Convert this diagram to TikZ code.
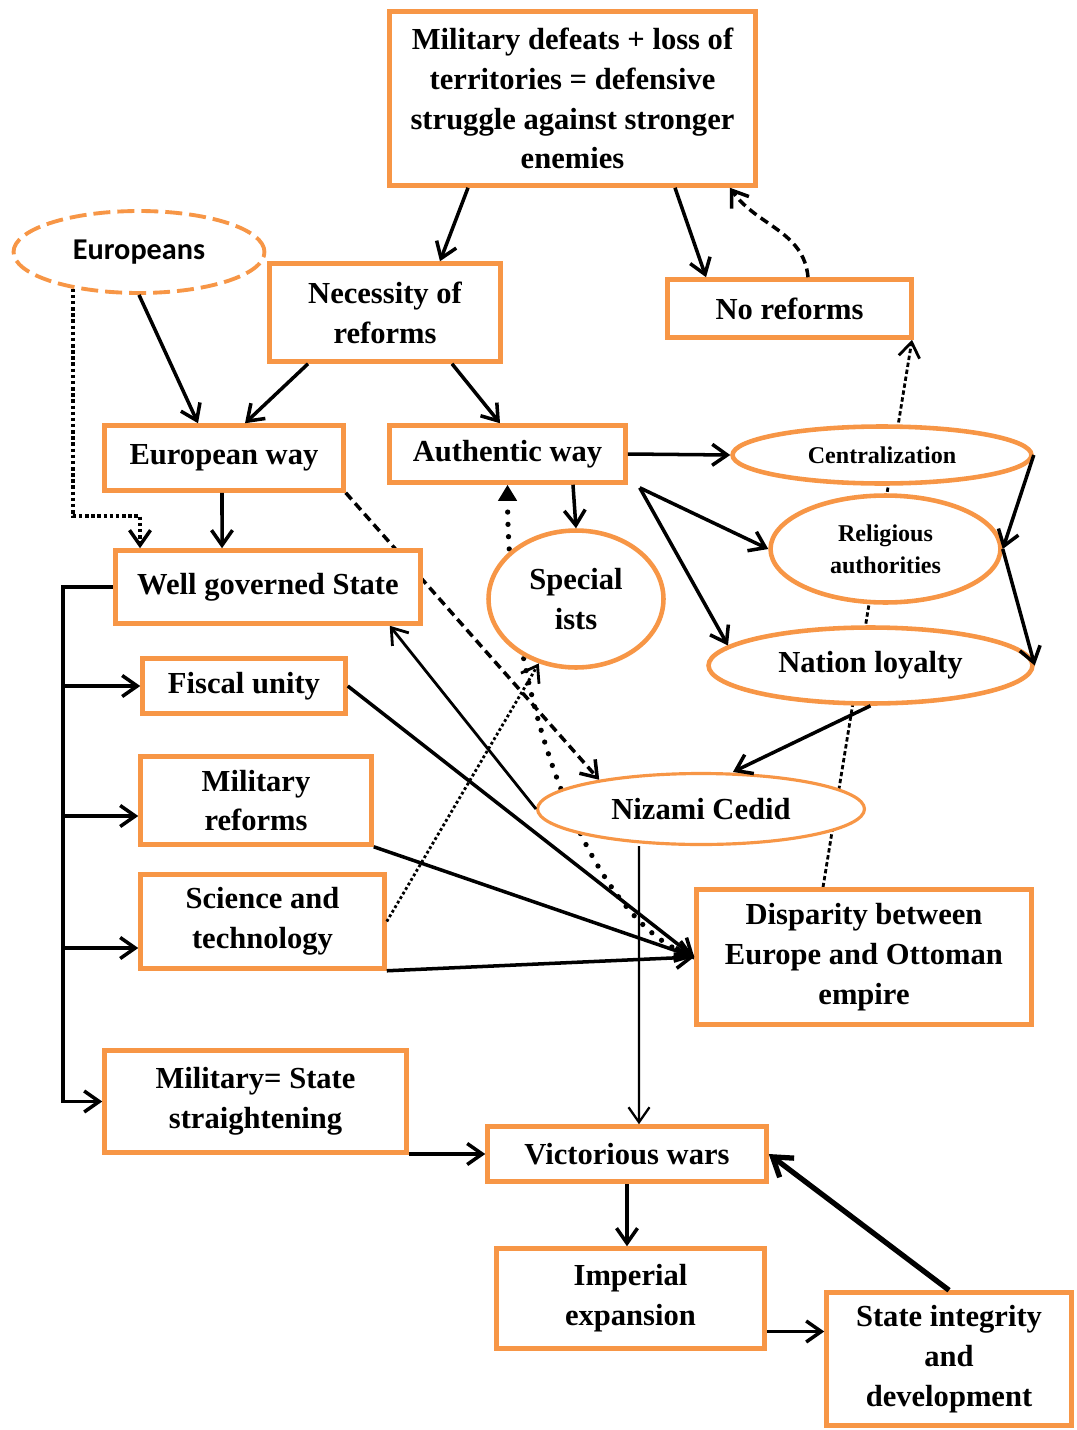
\documentclass[tikz,border=0pt]{standalone}
\usepackage{fontspec}
\setmainfont{Liberation Serif}
\newfontfamily\eurofont{Carlito}
\usetikzlibrary{shapes.geometric,arrows.meta,backgrounds}
\definecolor{boxorange}{HTML}{F79646}

\tikzset{
  box/.style={draw=boxorange, line width=2.6pt, fill=white, align=center, inner sep=1pt,
    font=\bfseries\fontsize{17.4}{22.7}\selectfont},
  oval/.style={box, ellipse, inner sep=0pt},
  smalltext/.style={font=\bfseries\fontsize{13.7}{18.2}\selectfont},
  arr/.style={line width=2pt, -{Straight Barb[length=3mm,width=4.2mm]}}
}

\begin{document}
\begin{tikzpicture}[x=0.02cm,y=-0.02cm]
\useasboundingbox (0,0) rectangle (1077,1430);

% boxes and ovals
\node[box, minimum width=7.32cm, minimum height=3.48cm] (defeat) at (572.5,98.5) {Military defeats + loss of\\territories = defensive\\struggle against stronger\\enemies};
\node[oval, dash pattern=on 0.34cm off 0.14cm, line width=2.2pt, minimum width=5.02cm, minimum height=1.64cm,
  font=\eurofont\bfseries\fontsize{17.2}{20}\selectfont] (europe) at (139,252) {Europeans};
\node[box, minimum width=4.62cm, minimum height=1.96cm] (need) at (385,312.5) {Necessity of\\reforms};
\node[box, minimum width=4.88cm, minimum height=1.16cm] (noref) at (789.5,308.5) {No reforms};
\node[box, minimum width=4.78cm, minimum height=1.30cm] (euway) at (224,458) {European way};
\node[box, minimum width=4.72cm, minimum height=1.14cm] (authway) at (507.5,454) {Authentic way};
\node[oval, smalltext, minimum width=5.98cm, minimum height=1.14cm] (central) at (882,455) {Centralization};
\node[oval, smalltext, minimum width=4.6cm, minimum height=2.14cm] (relig) at (885.5,549) {Religious\\authorities};
\node[oval, minimum width=3.5cm, minimum height=2.74cm] (spec) at (576,599) {Special\\ists};
\node[oval, minimum width=6.48cm, minimum height=1.52cm] (nation) at (870.5,665.5) {Nation loyalty};
\node[box, minimum width=6.1cm, minimum height=1.46cm] (state) at (268,587) {Well governed State};
\node[box, minimum width=4.06cm, minimum height=1.1cm] (fiscal) at (244,686) {Fiscal unity};
\node[box, minimum width=4.62cm, minimum height=1.76cm] (milref) at (256,800.5) {Military\\reforms};
\node[box, minimum width=4.88cm, minimum height=1.88cm] (science) at (262.5,921.5) {Science and\\technology};
\node[oval, line width=1.8pt, minimum width=6.54cm, minimum height=1.42cm] (nizami) at (701,809) {Nizami Cedid};
\node[box, minimum width=6.7cm, minimum height=2.7cm] (gap) at (864,957) {Disparity between\\Europe and Ottoman\\empire};
\node[box, minimum width=6.04cm, minimum height=2.04cm] (milstate) at (255.5,1101.5) {Military= State\\straightening};
\node[box, minimum width=5.58cm, minimum height=1.1cm] (wars) at (627,1154) {Victorious wars};
\node[box, minimum width=5.36cm, minimum height=2.0cm] (empire) at (630.5,1298.5) {Imperial\\expansion};
\node[box, minimum width=4.9cm, minimum height=2.66cm] (integ) at (949,1359) {State integrity\\and\\development};

% top part
\draw[arr] ([xshift=-2.09cm]defeat.south) -- ([xshift=1.1cm]need.north);
\draw[arr] ([xshift=2.05cm]defeat.south) -- ([xshift=-1.67cm]noref.north);
\draw[arr, dash pattern=on 5pt off 3pt] ([xshift=0.37cm]noref.north) to[out=95,in=-55] ([xshift=3.15cm]defeat.south);
\draw[arr] (europe.south) -- ([xshift=-0.52cm]euway.north);
\draw[arr, dash pattern=on 2pt off 1.5pt] (europe.209) |- ([xshift=-2.56cm,yshift=0.64cm]state.north) -- ([xshift=-2.56cm]state.north);
\draw[arr] ([xshift=-1.54cm]need.south) -- ([xshift=0.42cm]euway.north);
\draw[arr] ([xshift=1.34cm]need.south) -- ([xshift=-0.15cm]authway.north);
\draw[arr] ([xshift=-0.04cm]euway.south) -- ([xshift=-0.92cm]state.north);

% authentic way
\draw[arr] ([xshift=1.31cm]authway.south) -- (spec.north);
\draw[arr] (authway.east) -- (central.west);
\draw[arr] ([xshift=0.24cm,yshift=-0.06cm]authway.south east) -- (relig.west);
\draw[arr] ([xshift=0.24cm,yshift=-0.06cm]authway.south east) -- (nation.172);
\draw[arr] (central.east) -- (relig.east);
\draw[arr] (relig.east) -- (nation.east);
\draw[arr] (nation.south) -- ([xshift=0.64cm]nizami.north);
\draw[arr, line width=1.6pt] (nizami.west) -- ([xshift=-0.66cm]state.south east);
\draw[arr, line width=1.3pt] ([xshift=-1.24cm]nizami.south) -- ([xshift=0.24cm]wars.north);

% into the disparity box
\draw[arr] (fiscal.east) -- (gap.west);
\draw[arr] (milref.south east) -- (gap.west);
\draw[arr] (science.south east) -- (gap.west);
\draw[arr, dash pattern=on 1.6pt off 1.4pt, line width=1.6pt] (science.east) -- (spec.240);

% left rail
\coordinate (rail) at ([xshift=-1cm]state.west);
\draw[arr] (state.west) -- (rail) |- (milstate.west);
\draw[arr] (rail |- fiscal.west) -- (fiscal.west);
\draw[arr] ([yshift=-0.31cm]milref.west -| rail) -- ([yshift=-0.31cm]milref.west);
\draw[arr] ([yshift=-0.53cm]science.west -| rail) -- ([yshift=-0.53cm]science.west);

% bottom part
\draw[arr] (wars.west -| milstate.east) -- (wars.west);
\draw[arr] (wars.south) -- (wars.south |- empire.north);
\draw[arr] ([yshift=-0.66cm]empire.east) -- ([yshift=-0.66cm]empire.east -| integ.west);
\draw[line width=3pt, -{Straight Barb[length=3.6mm,width=4.8mm]}] (integ.north) -- (wars.east);

% lines that run behind the nodes
\begin{scope}[on background layer]
\draw[arr, dash pattern=on 5pt off 3pt] (euway.south east) -- (nizami.164);
\draw[arr, line width=1.6pt, dash pattern=on 2.5pt off 1.5pt] ([xshift=-0.82cm]gap.north) -- ([xshift=2.45cm]noref.south);
\draw[line width=3pt, line cap=round, dash pattern=on 0pt off 7pt, -{Triangle[length=3.2mm,width=3.6mm]}]
  (gap.west) .. controls (590,925) and (508,700) .. (authway.south);
\end{scope}
\end{tikzpicture}
\end{document}
